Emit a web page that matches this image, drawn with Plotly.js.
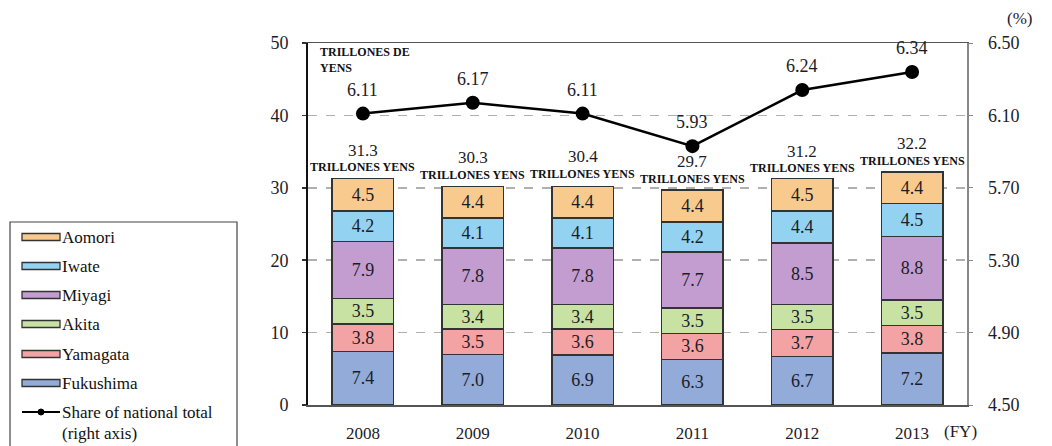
<!DOCTYPE html>
<html>
<head>
<meta charset="utf-8">
<script src="https://cdn.plot.ly/plotly-3.0.1.min.js"></script>
<style>
html,body{margin:0;padding:0;background:#fff;}
#chart{width:1052px;height:446px;}
</style>
</head>
<body>
<div id="chart"></div>
<script>
// ---- data ----
const years = ["2008","2009","2010","2011","2012","2013"];
const fukushima = [7.4, 7.0, 6.9, 6.3, 6.7, 7.2];
const yamagata  = [3.8, 3.5, 3.6, 3.6, 3.7, 3.8];
const akita     = [3.5, 3.4, 3.4, 3.5, 3.5, 3.5];
const miyagi    = [7.9, 7.8, 7.8, 7.7, 8.5, 8.8];
const iwate     = [4.2, 4.1, 4.1, 4.2, 4.4, 4.5];
const aomori    = [4.5, 4.4, 4.4, 4.4, 4.5, 4.4];
const totals    = [31.3, 30.3, 30.4, 29.7, 31.2, 32.2];
const share     = [6.11, 6.17, 6.11, 5.93, 6.24, 6.34];
const leftTicks  = [0, 10, 20, 30, 40, 50];
const rightTicks = [4.50, 4.90, 5.30, 5.70, 6.10, 6.50];

// ---- style ----
const FONT = "'Liberation Serif', 'Times New Roman', serif";
const TXT = "#1c1c28";
const L = 308, R = 85, T = 43, B = 41, WIDTH = 1052, HEIGHT = 446;
const PW = WIDTH - L - R, PH = HEIGHT - T - B;
const px = v => (v - L) / PW;
const py = v => (T + PH - v) / PH;

const seriesDef = [
  {name: "Fukushima", vals: fukushima, color: "#93abd9"},
  {name: "Yamagata",  vals: yamagata,  color: "#f3a3a3"},
  {name: "Akita",     vals: akita,     color: "#c8e2a4"},
  {name: "Miyagi",    vals: miyagi,    color: "#c49dd0"},
  {name: "Iwate",     vals: iwate,     color: "#93d2f0"},
  {name: "Aomori",    vals: aomori,    color: "#f9ca8e"}
];

const traces = seriesDef.map(s => ({
  type: "bar",
  name: s.name,
  x: years,
  y: s.vals,
  width: 0.56,
  marker: {color: s.color, line: {color: "#333", width: 1.5}},
  text: s.vals.map(v => v.toFixed(1)),
  textposition: "inside",
  insidetextanchor: "middle",
  textangle: 0,
  constraintext: "none",
  textfont: {family: FONT, size: 18, color: TXT},
  hoverinfo: "skip",
  showlegend: false
}));

traces.push({
  type: "scatter",
  mode: "lines+markers",
  name: "Share of national total (right axis)",
  x: years,
  y: share,
  yaxis: "y2",
  line: {color: "#000", width: 2.5},
  marker: {color: "#000", size: 14},
  hoverinfo: "skip",
  showlegend: false
});

const annotations = [];
years.forEach((yr, i) => {
  annotations.push({x: i, y: totals[i], xref: "x", yref: "y", text: totals[i].toFixed(1),
    showarrow: false, yanchor: "middle", yshift: 28, font: {family: FONT, size: 17, color: TXT}});
  annotations.push({x: i, y: totals[i], xref: "x", yref: "y", text: "<b>TRILLONES YENS</b>",
    showarrow: false, yanchor: "middle", yshift: 11, font: {family: FONT, size: 12, color: "#111"}});
  annotations.push({x: i, y: share[i], xref: "x", yref: "y2", text: share[i].toFixed(2),
    showarrow: false, yanchor: "middle", yshift: 24, font: {family: FONT, size: 18, color: TXT}});
});

annotations.push({xref: "paper", yref: "paper", x: px(318), y: py(60), xanchor: "left", yanchor: "middle",
  align: "left", showarrow: false, text: "<b>TRILLONES DE<br>YENS</b>",
  font: {family: FONT, size: 12, color: "#111"}});
annotations.push({xref: "paper", yref: "paper", x: px(1020), y: py(18), xanchor: "center", yanchor: "middle",
  showarrow: false, text: "(%)", font: {family: FONT, size: 17, color: TXT}});
annotations.push({xref: "paper", yref: "paper", x: px(942), y: py(431), xanchor: "left", yanchor: "middle",
  showarrow: false, text: "(FY)", font: {family: FONT, size: 17, color: TXT}});

// ---- manual legend ----
const shapes = [];
shapes.push({type: "path", xref: "paper", yref: "paper",
  path: `M ${px(10)} ${py(452)} L ${px(10)} ${py(222)} L ${px(237)} ${py(222)} L ${px(237)} ${py(452)}`,
  line: {color: "#444", width: 1.2}});
const legendOrder = ["Aomori","Iwate","Miyagi","Akita","Yamagata","Fukushima"];
const legendY = [237, 266, 295, 324, 354, 383];
legendOrder.forEach((nm, i) => {
  const s = seriesDef.find(d => d.name === nm);
  const cy = legendY[i];
  shapes.push({type: "rect", xref: "paper", yref: "paper",
    x0: px(22), x1: px(60), y0: py(cy + 3.5), y1: py(cy - 3.5),
    fillcolor: s.color, line: {color: "#333", width: 1.3}});
  annotations.push({xref: "paper", yref: "paper", x: px(60), y: py(cy), xanchor: "left", yanchor: "middle",
    showarrow: false, text: nm, font: {family: FONT, size: 17, color: "#111"}});
});
shapes.push({type: "line", xref: "paper", yref: "paper", x0: px(22), x1: px(60), y0: py(412), y1: py(412),
  line: {color: "#000", width: 2}});
shapes.push({type: "circle", xref: "paper", yref: "paper", x0: px(38), x1: px(44), y0: py(415), y1: py(409),
  fillcolor: "#000", line: {color: "#000", width: 1}});
annotations.push({xref: "paper", yref: "paper", x: px(60), y: py(412), xanchor: "left", yanchor: "middle",
  showarrow: false, text: "Share of national total", font: {family: FONT, size: 17, color: "#111"}});
annotations.push({xref: "paper", yref: "paper", x: px(60), y: py(433), xanchor: "left", yanchor: "middle",
  showarrow: false, text: "(right axis)", font: {family: FONT, size: 17, color: "#111"}});

const layout = {
  width: WIDTH, height: HEIGHT,
  margin: {l: L, r: R, t: T, b: B, pad: 0},
  paper_bgcolor: "#fff", plot_bgcolor: "#fff",
  barmode: "stack",
  showlegend: false,
  font: {family: FONT, size: 16, color: TXT},
  xaxis: {
    type: "category", categoryorder: "array", categoryarray: years,
    range: [-0.5, years.length - 0.5],
    showline: true, linecolor: "#555", linewidth: 1.5, mirror: true,
    ticks: "", showgrid: false, zeroline: false,
    tickfont: {family: FONT, size: 17, color: TXT},
    ticklabelstandoff: 12
  },
  yaxis: {
    range: [0, 50], tickvals: leftTicks,
    showline: true, linecolor: "#111", linewidth: 2,
    ticks: "outside", ticklen: 4, tickcolor: "#333", tickwidth: 1.5,
    showgrid: true, gridcolor: "#b0b0b0", gridwidth: 1.5, griddash: "dash",
    zeroline: false,
    tickfont: {family: FONT, size: 18, color: TXT},
    ticklabelstandoff: 10
  },
  yaxis2: {
    overlaying: "y", side: "right",
    range: [4.5, 6.5], tickvals: rightTicks, tickformat: ".2f",
    showline: true, linecolor: "#888", linewidth: 1.5,
    ticks: "outside", ticklen: 4, tickcolor: "#888",
    showgrid: false, zeroline: false,
    tickfont: {family: FONT, size: 18, color: TXT},
    ticklabelstandoff: 12
  },
  annotations: annotations,
  shapes: shapes
};

Plotly.newPlot("chart", traces, layout, {displayModeBar: false, staticPlot: true});
</script>
</body>
</html>
